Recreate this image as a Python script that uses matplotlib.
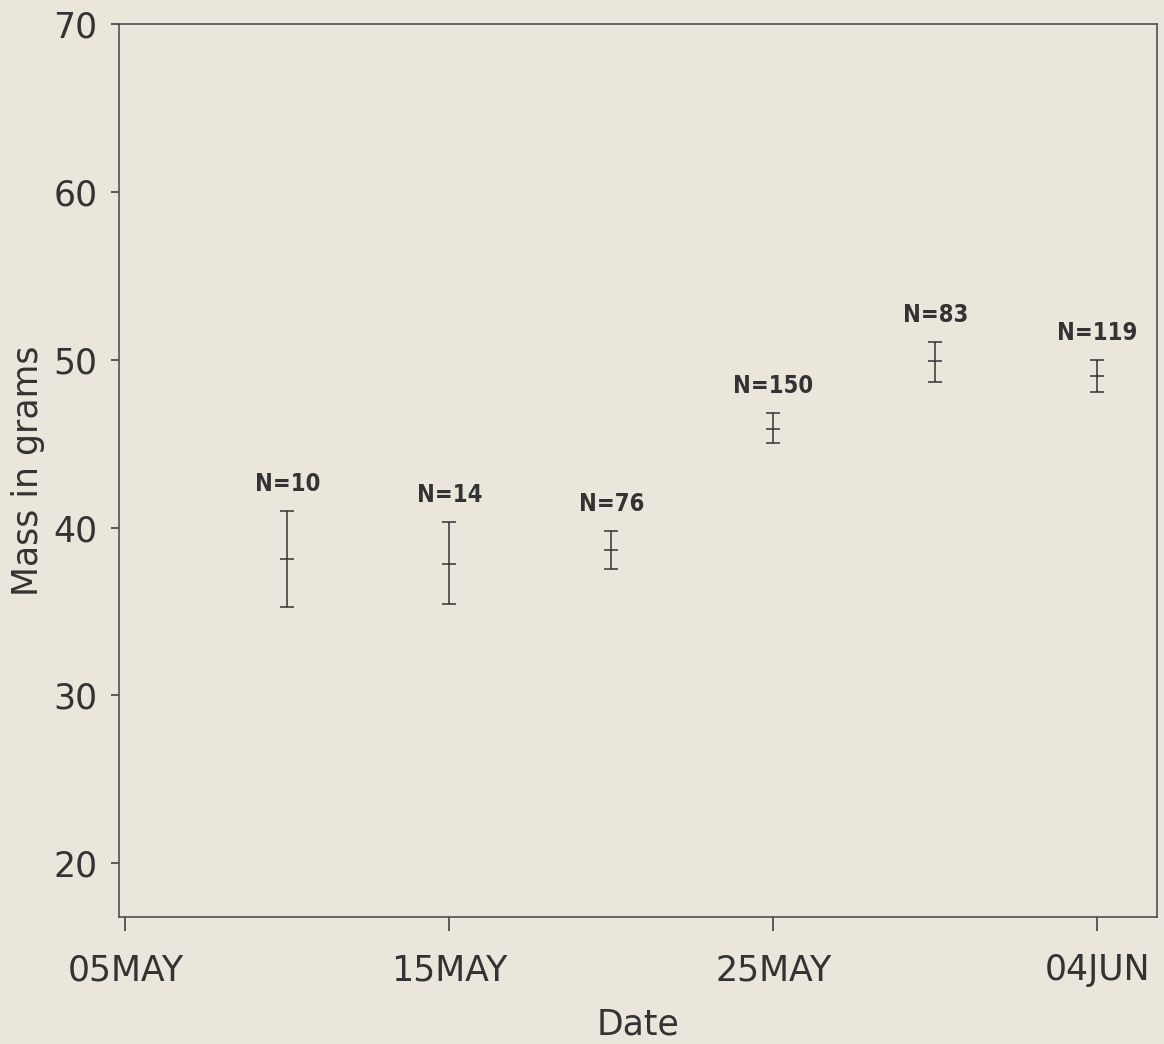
import datetime as dt

import matplotlib
matplotlib.use("Agg")
import matplotlib.pyplot as plt
import numpy as np

# sampling dates and body mass summary (grams)
dates = ["1990-05-10", "1990-05-15", "1990-05-20", "1990-05-25", "1990-05-30", "1990-06-04"]
mean_mass = [38.1, 37.85, 38.65, 45.9, 49.9, 49.05]
upper_mass = [41.0, 40.35, 39.8, 46.8, 51.05, 50.0]
lower_mass = [35.3, 35.45, 37.55, 45.05, 48.7, 48.05]
counts = [10, 14, 76, 150, 83, 119]

tick_dates = ["1990-05-05", "1990-05-15", "1990-05-25", "1990-06-04"]
tick_labels = ["05MAY", "15MAY", "25MAY", "04JUN"]
y_ticks = [20, 30, 40, 50, 60, 70]

bg = "#ebe6dc"
ink = "#333333"

x = [dt.datetime.fromisoformat(d) for d in dates]
xt = [dt.datetime.fromisoformat(d) for d in tick_dates]
m = np.array(mean_mass)
yerr = [m - np.array(lower_mass), np.array(upper_mass) - m]

fig = plt.figure(figsize=(11.64, 10.44), dpi=100, facecolor=bg)
ax = fig.add_axes([0.1022, 0.1216, 0.8918, 0.8554], facecolor=bg)

ax.errorbar(x, m, yerr=yerr, fmt="_", color=ink, ecolor=ink,
            markersize=9.5, markeredgewidth=1.1, elinewidth=1.1,
            capsize=4.7, capthick=1.1)

# narrow count labels above each bar
for xi, top, n in zip(x, upper_mass, counts):
    ax.annotate(f"N={n}", (xi, top), xytext=(0, 19.5), textcoords="offset points",
                ha="center", va="center", fontsize=17, color=ink,
                family=["Liberation Sans Narrow", "DejaVu Sans"],
                fontstretch="condensed", fontweight="bold")

ax.set_xlim(xt[0] - dt.timedelta(days=0.2), xt[-1] + dt.timedelta(days=1.85))
ax.set_ylim(16.8, 70)
ax.set_xticks(xt)
ax.set_xticklabels(tick_labels)
ax.set_yticks(y_ticks)

for s in ax.spines.values():
    s.set_color("#444444")
    s.set_linewidth(1.1)

ax.tick_params(axis="x", direction="out", length=10, width=1.1, pad=16,
               labelsize=25, colors=ink)
ax.tick_params(axis="y", direction="out", length=5.5, width=1.1, pad=10,
               labelsize=25, colors=ink)

ax.set_xlabel("Date", fontsize=25, color=ink, labelpad=15)
ax.set_ylabel("Mass in grams", fontsize=25, color=ink, labelpad=6)

fig.savefig("out.png", dpi=100, facecolor=bg)
